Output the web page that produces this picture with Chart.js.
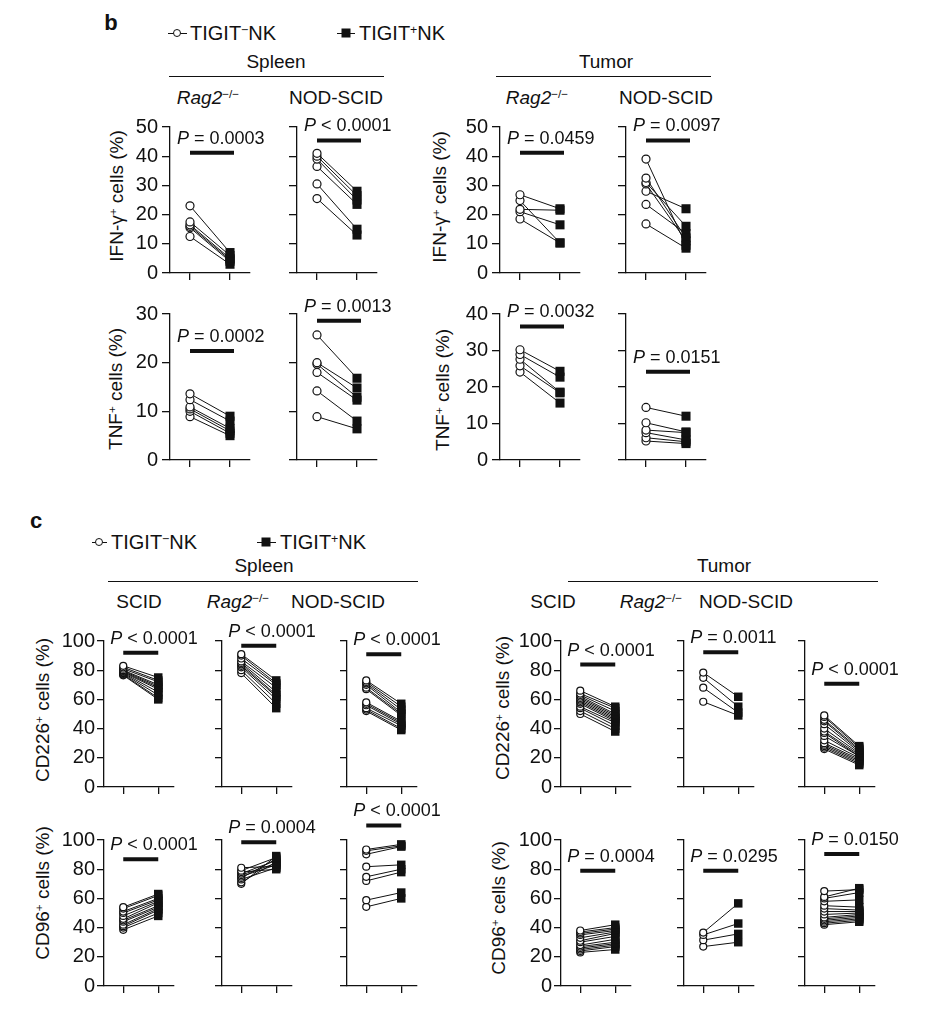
<!DOCTYPE html>
<html>
<head>
<meta charset="utf-8">
<script src="https://cdn.jsdelivr.net/npm/chart.js@4.4.1/dist/chart.umd.min.js"></script>
<style>
body{margin:0;background:#fff;width:925px;height:1021px;position:relative;overflow:hidden;font-family:'Liberation Sans',Arial,sans-serif;color:#111}
.t{position:absolute;white-space:nowrap;transform:translate(-50%,-50%);font-size:19px;line-height:1}
.tl{position:absolute;white-space:nowrap;transform:translate(0,-50%);font-size:20px;line-height:1}
.rot{transform:translate(-50%,-50%) rotate(-90deg)}
sup{font-size:0.62em;vertical-align:0;position:relative;top:-0.5em}
.ul{position:absolute;height:0;border-top:1.3px solid #111}
.circ{position:absolute;width:6px;height:6px;border:1.3px solid #111;border-radius:50%;background:#fff;transform:translate(-50%,-50%)}
.sq{position:absolute;width:9px;height:9px;background:#111;transform:translate(-50%,-50%)}
canvas{position:absolute}
</style>
</head>
<body>

<!-- panel b headers -->
<div class="t" style="left:111px;top:23px;font-weight:bold;font-size:22px">b</div>
<div class="ul" style="left:168px;top:33px;width:19px"></div>
<div class="circ" style="left:177px;top:33px"></div>
<div class="tl" style="left:190px;top:33px">TIGIT<sup>−</sup>NK</div>
<div class="ul" style="left:337px;top:33px;width:18px"></div>
<div class="sq" style="left:346px;top:33px"></div>
<div class="tl" style="left:359px;top:33px">TIGIT<sup>+</sup>NK</div>

<div class="t" style="left:276px;top:61px">Spleen</div>
<div class="ul" style="left:169px;top:76px;width:215px"></div>
<div class="t" style="left:208px;top:97px"><i>Rag2</i><sup>−/−</sup></div>
<div class="t" style="left:336px;top:97px">NOD-SCID</div>

<div class="t" style="left:606px;top:61px">Tumor</div>
<div class="ul" style="left:496px;top:76px;width:215px"></div>
<div class="t" style="left:537px;top:97px"><i>Rag2</i><sup>−/−</sup></div>
<div class="t" style="left:666px;top:97px">NOD-SCID</div>

<div class="t rot" style="left:116px;top:196px">IFN-γ<sup>+</sup> cells (%)</div>
<div class="t rot" style="left:439px;top:197px">IFN-γ<sup>+</sup> cells (%)</div>
<div class="t rot" style="left:115px;top:389px">TNF<sup>+</sup> cells (%)</div>
<div class="t rot" style="left:442px;top:390px">TNF<sup>+</sup> cells (%)</div>

<!-- panel c headers -->
<div class="t" style="left:36px;top:521px;font-weight:bold;font-size:22px">c</div>
<div class="ul" style="left:92px;top:542px;width:15px"></div>
<div class="circ" style="left:99px;top:542px"></div>
<div class="tl" style="left:111px;top:542px">TIGIT<sup>−</sup>NK</div>
<div class="ul" style="left:257px;top:542px;width:19px"></div>
<div class="sq" style="left:266px;top:542px"></div>
<div class="tl" style="left:280px;top:542px">TIGIT<sup>+</sup>NK</div>

<div class="t" style="left:264px;top:565px">Spleen</div>
<div class="ul" style="left:108px;top:581px;width:310px"></div>
<div class="t" style="left:139px;top:601px">SCID</div>
<div class="t" style="left:238px;top:601px"><i>Rag2</i><sup>−/−</sup></div>
<div class="t" style="left:338px;top:601px">NOD-SCID</div>

<div class="t" style="left:724px;top:565px">Tumor</div>
<div class="ul" style="left:568px;top:581px;width:310px"></div>
<div class="t" style="left:553px;top:601px">SCID</div>
<div class="t" style="left:651px;top:601px"><i>Rag2</i><sup>−/−</sup></div>
<div class="t" style="left:746px;top:601px">NOD-SCID</div>

<div class="t rot" style="left:42px;top:710px">CD226<sup>+</sup> cells (%)</div>
<div class="t rot" style="left:502px;top:708px">CD226<sup>+</sup> cells (%)</div>
<div class="t rot" style="left:42px;top:893px">CD96<sup>+</sup> cells (%)</div>
<div class="t rot" style="left:498px;top:908px">CD96<sup>+</sup> cells (%)</div>

<script>
// panel b: IFN-γ+ (%), TIGIT- (circles) and TIGIT+ (squares), one entry per mouse
const ifnSpleenRag2Neg = [23, 17.5, 16.5, 16, 15.5, 12.5]
const ifnSpleenRag2Pos = [7, 6, 5, 4.5, 4, 3]
const ifnSpleenNodNeg = [41, 40, 39, 36.5, 30.5, 25.5]
const ifnSpleenNodPos = [28, 26.5, 25, 23.5, 15, 13]
const ifnTumorRag2Neg = [26.8, 24.8, 21.8, 21, 18.5]
const ifnTumorRag2Pos = [22, 10.3, 21.5, 16.5, 10.3]
const ifnTumorNodNeg = [39, 32.5, 31, 30.5, 28, 23.5, 16.8]
const ifnTumorNodPos = [9.5, 12, 16, 11, 22, 13.5, 8.5]

// panel b: TNF+ (%)
const tnfSpleenRag2Neg = [13.6, 12.4, 10.9, 10.5, 10, 8.9]
const tnfSpleenRag2Pos = [9, 8, 6.5, 6, 5.5, 5]
const tnfSpleenNodNeg = [25.7, 20, 19.7, 18, 14.2, 8.9]
const tnfSpleenNodPos = [16.8, 14.8, 12.9, 12.3, 8, 6.4]
const tnfTumorRag2Neg = [30.2, 28.9, 27.6, 25.8, 24.1]
const tnfTumorRag2Pos = [24.3, 22.7, 18.6, 18.4, 15.6]
const tnfTumorNodNeg = [14.4, 10.2, 8.2, 7.5, 6.1, 5.2]
const tnfTumorNodPos = [12, 7.7, 7.5, 5.5, 5, 4.5]

// panel c: CD226+ (%)
const cd226SpleenScidNeg = [83, 82, 81, 80, 79.5, 79, 78.5, 78, 77.5, 77, 76.5]
const cd226SpleenScidPos = [75, 73, 72, 70, 69, 68, 67, 65, 63, 61, 60]
const cd226SpleenRag2Neg = [91, 90, 88, 86, 85, 84, 83, 82, 80, 78]
const cd226SpleenRag2Pos = [73, 71, 70, 68, 65, 63, 62, 60, 57, 54]
const cd226SpleenNodNeg = [73, 72, 71, 70, 68, 67, 58, 57, 56, 54, 53, 52]
const cd226SpleenNodPos = [57, 55, 53, 51, 50, 49, 45, 44, 43, 42, 40, 39]
const cd226TumorScidNeg = [66, 64, 63, 62, 61, 60, 59, 58, 57, 55, 54, 52, 50]
const cd226TumorScidPos = [55, 54, 52, 50, 49, 48, 47, 46, 45, 44, 42, 40, 38]
const cd226TumorRag2Neg = [78.4, 74.8, 68, 58.4]
const cd226TumorRag2Pos = [61.8, 55, 51, 49]
const cd226TumorNodNeg = [49, 48, 46, 45, 43, 40, 38, 37, 35, 32, 30, 29, 28, 27, 26]
const cd226TumorNodPos = [28, 27, 26, 25, 24, 23, 22, 21, 21, 20, 19, 18, 17, 16, 15]

// panel c: CD96+ (%)
const cd96SpleenScidNeg = [54, 53, 51, 50, 48, 46, 45, 44, 42, 41, 40, 38.5]
const cd96SpleenScidPos = [63, 62, 60, 59, 58, 57, 55, 54, 53, 52, 50, 48]
const cd96SpleenRag2Neg = [81, 79, 78, 77, 76, 75, 74, 73, 71, 70]
const cd96SpleenRag2Pos = [82, 88, 80, 86, 84, 83, 87, 81, 85, 89]
const cd96SpleenNodNeg = [93.5, 92.6, 90.2, 81.7, 74.8, 72, 58.8, 54.2]
const cd96SpleenNodPos = [97, 96, 95.5, 83, 80, 78, 64, 60]
const cd96TumorScidNeg = [38, 37, 36, 35, 33, 31, 30, 28, 27, 26, 25, 24, 23]
const cd96TumorScidPos = [42, 40, 39, 38, 37, 36, 34, 32, 30, 29, 28, 27, 25]
const cd96TumorRag2Neg = [36.6, 35, 31.4, 27]
const cd96TumorRag2Pos = [56.6, 42.8, 35.7, 30]
const cd96TumorNodNeg = [65, 61, 60, 58, 55, 53, 51, 49, 47, 46, 45, 44, 43, 42]
const cd96TumorNodPos = [66, 67, 64, 59, 54, 52, 51, 50, 49, 48, 47, 46, 45, 44]

// P values and height of the significance bar
const bPText = ['= 0.0003', '< 0.0001', '= 0.0459', '= 0.0097', '= 0.0002', '= 0.0013', '= 0.0032', '= 0.0151']
const bPBar = [41.2, 45.4, 41.2, 45.4, 22.4, 28.6, 36.6, 24.2]
const cPText = ['< 0.0001', '< 0.0001', '< 0.0001', '< 0.0001', '= 0.0011', '< 0.0001',
                '< 0.0001', '= 0.0004', '< 0.0001', '= 0.0004', '= 0.0295', '= 0.0150']
const cPBar = [92, 96.8, 91, 83.9, 92.3, 70.7, 86.8, 98.4, 110, 79, 79, 90.4]

// y axis maxima
const bYMax = [50, 50, 50, 50, 30, 30, 40, 40]
const cYMax = 100

const FONT = "'Liberation Sans', Arial, Helvetica, sans-serif"
const INK = '#111'

const bNeg = [ifnSpleenRag2Neg, ifnSpleenNodNeg, ifnTumorRag2Neg, ifnTumorNodNeg,
              tnfSpleenRag2Neg, tnfSpleenNodNeg, tnfTumorRag2Neg, tnfTumorNodNeg]
const bPos = [ifnSpleenRag2Pos, ifnSpleenNodPos, ifnTumorRag2Pos, ifnTumorNodPos,
              tnfSpleenRag2Pos, tnfSpleenNodPos, tnfTumorRag2Pos, tnfTumorNodPos]
const cNeg = [cd226SpleenScidNeg, cd226SpleenRag2Neg, cd226SpleenNodNeg, cd226TumorScidNeg, cd226TumorRag2Neg, cd226TumorNodNeg,
              cd96SpleenScidNeg, cd96SpleenRag2Neg, cd96SpleenNodNeg, cd96TumorScidNeg, cd96TumorRag2Neg, cd96TumorNodNeg]
const cPos = [cd226SpleenScidPos, cd226SpleenRag2Pos, cd226SpleenNodPos, cd226TumorScidPos, cd226TumorRag2Pos, cd226TumorNodPos,
              cd96SpleenScidPos, cd96SpleenRag2Pos, cd96SpleenNodPos, cd96TumorScidPos, cd96TumorRag2Pos, cd96TumorNodPos]

const PLOT_H = 146
const PAD_T = 50
const PAD_R = 40
const AXIS_W = 60
const AXIS_H = 24

const makePlot = function(p){
    const W = AXIS_W + p.w + PAD_R
    const H = PAD_T + PLOT_H + AXIS_H
    let canvas = document.createElement("canvas")
    canvas.width = W
    canvas.height = H
    canvas.style.left = (p.left - AXIS_W) + 'px'
    canvas.style.top = (p.top - PAD_T) + 'px'
    document.body.appendChild(canvas)

    let datasets = p.neg.map((v, i) => ({
        data: [{x: 0, y: v}, {x: 1, y: p.pos[i]}],
        showLine: true,
        borderColor: INK,
        borderWidth: 1,
        pointStyle: ['circle', 'rect'],
        pointRadius: [p.r, p.s],
        pointBackgroundColor: ['#fff', INK],
        pointBorderColor: INK,
        pointBorderWidth: [1.2, 0]
    }))
    // significance bar
    datasets.unshift({
        data: [{x: 0, y: p.bar}, {x: p.barEnd, y: p.bar}],
        showLine: true, borderColor: INK, borderWidth: 4,
        borderCapStyle: 'butt', pointRadius: 0, clip: false
    })

    const pLabel = {
        id: 'pLabel',
        afterDatasetsDraw(chart){
            const ctx = chart.ctx
            const x0 = chart.scales.x.getPixelForValue(0) - 13
            const y0 = chart.scales.y.getPixelForValue(p.bar) - 9
            ctx.save()
            ctx.fillStyle = INK
            ctx.textBaseline = 'alphabetic'
            ctx.font = 'italic 18px ' + FONT
            ctx.fillText('P', x0, y0)
            const w = ctx.measureText('P').width
            ctx.font = '18px ' + FONT
            ctx.fillText(' ' + p.text, x0 + w, y0)
            ctx.restore()
        }
    }

    new Chart(canvas.getContext('2d'), {
        type: 'scatter',
        data: {datasets: datasets},
        plugins: [pLabel],
        options: {
            responsive: false,
            animation: false,
            devicePixelRatio: 1,
            events: [],
            layout: {padding: {top: PAD_T, right: PAD_R, left: 0, bottom: 0}},
            plugins: {legend: {display: false}, tooltip: {enabled: false}},
            scales: {
                x: {
                    type: 'linear', min: p.xmin, max: p.xmin + 2,
                    afterBuildTicks: s => { s.ticks = [{value: 0}, {value: 1}] },
                    afterFit: s => { s.height = AXIS_H },
                    ticks: {display: false},
                    grid: {drawOnChartArea: false, drawTicks: true, tickLength: 7, color: INK, lineWidth: 1.3},
                    border: {display: true, color: INK, width: 1.3}
                },
                y: {
                    type: 'linear', min: 0, max: p.max,
                    afterFit: s => { s.width = AXIS_W },
                    ticks: {
                        stepSize: p.max / 5 >= 20 ? 20 : 10,
                        color: p.labels ? INK : 'rgba(0,0,0,0)',
                        padding: p.tickPad,
                        font: {family: FONT, size: p.font}
                    },
                    grid: {drawOnChartArea: false, drawTicks: true, tickLength: p.tick, color: INK, lineWidth: 1.3},
                    border: {display: true, color: INK, width: 1.3}
                }
            }
        }
    })
}

// panel b layout: 2 rows x 4 plots
const bLeft = [170, 297, 500, 626]
const bTop = [127, 314]
for (let i = 0; i < 8; i++){
    makePlot({
        left: bLeft[i % 4], top: bTop[Math.floor(i / 4)], w: 80, xmin: -0.5,
        neg: bNeg[i], pos: bPos[i], max: bYMax[i],
        bar: bPBar[i], barEnd: 1.1, text: bPText[i],
        labels: i % 2 == 0, font: 20, tick: 8, tickPad: 4, r: 4, s: 6.4
    })
}

// panel c layout: 2 rows x 6 plots
const cLeft = [104, 222, 347, 561, 684, 805]
const cTop = [641, 840]
for (let i = 0; i < 12; i++){
    makePlot({
        left: cLeft[i % 6], top: cTop[Math.floor(i / 6)], w: 70, xmin: -0.55,
        neg: cNeg[i], pos: cPos[i], max: cYMax,
        bar: cPBar[i], barEnd: 1, text: cPText[i],
        labels: i % 6 == 0 || i % 6 == 3, font: 20, tick: 7, tickPad: 2, r: 3.5, s: 6
    })
}
</script>
</body>
</html>
